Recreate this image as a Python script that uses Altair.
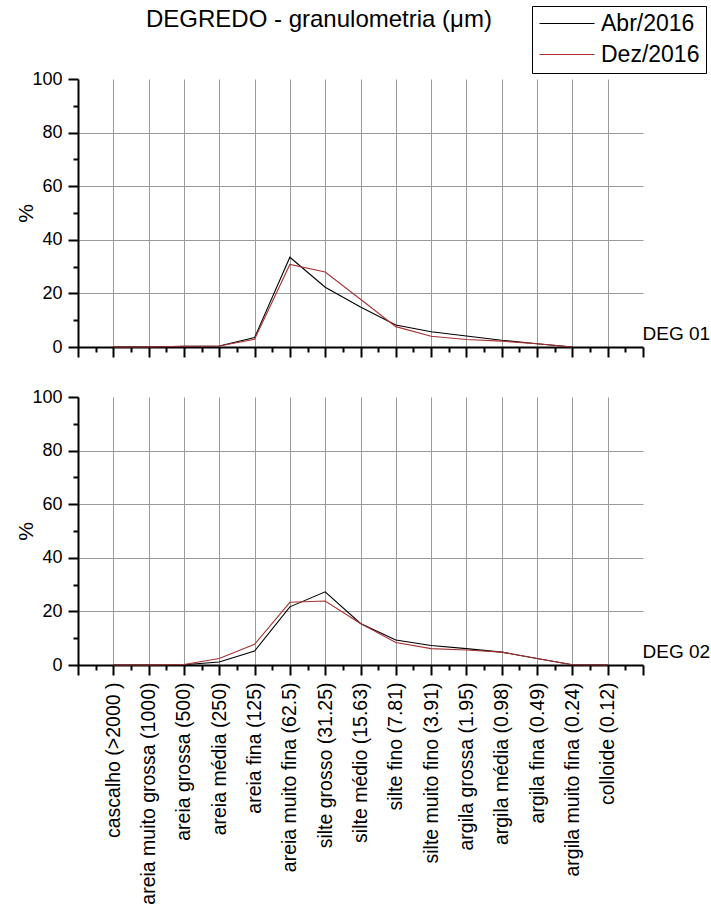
import json
import altair as alt
import pandas as pd

# ---------------- data ----------------
categories = [
    "cascalho (>2000 )", "areia muito grossa (1000)", "areia grossa (500)",
    "areia média (250)", "areia fina (125)", "areia muito fina (62.5)",
    "silte grosso (31.25)", "silte médio (15.63)", "silte fino (7.81)",
    "silte muito fino (3.91)", "argila grossa (1.95)", "argila média (0.98)",
    "argila fina (0.49)", "argila muito fina (0.24)", "colloide (0.12)",
]
cat_pos = list(range(1, 16))
series_names = ["Abr/2016", "Dez/2016"]
series_colors = ["#000000", "#a83232"]

deg01_abr = [0, 0, 0.3, 0.4, 3.5, 33.5, 22.3, 14.9, 8.2, 5.7, 4.1, 2.5, 1.2, 0, None]
deg01_dez = [0, 0, 0.3, 0.4, 2.9, 30.8, 28.0, 17.8, 7.6, 4.0, 2.8, 2.2, 1.2, 0, None]
deg02_abr = [0, 0, 0.1, 1.1, 5.2, 21.7, 27.3, 15.5, 9.3, 7.3, 6.1, 4.8, 2.4, 0.1, 0]
deg02_dez = [0, 0, 0.2, 2.4, 7.7, 23.4, 23.9, 15.5, 8.4, 6.1, 5.6, 4.8, 2.4, 0.1, 0]

panel_labels = ["DEG 01", "DEG 02"]
panel_label_pos = [5, 5]

x_ticks = [i * 0.5 for i in range(33)]
y_ticks = list(range(0, 101, 10))

FONT = "Liberation Sans, Arial, sans-serif"
W, H = 565, 268


def make_df(abr, dez):
    rows = []
    for name, vals in ((series_names[0], abr), (series_names[1], dez)):
        for p, v in zip(cat_pos, vals):
            if v is not None:
                rows.append({"pos": p, "val": v, "serie": name})
    return pd.DataFrame(rows)


cat_js = json.dumps(categories, ensure_ascii=False)
x_label_expr = (
    "(datum.value % 1 === 0 && datum.value >= 1 && datum.value <= 15) ? "
    + cat_js + "[datum.value - 1] : ''"
)


def panel(df, show_labels, label_text, label_pos, legend):
    x_axis = alt.Axis(
        values=x_ticks,
        title=None,
        labels=show_labels,
        labelExpr=x_label_expr,
        labelAngle=270,
        labelFontSize=19.5,
        labelFont=FONT,
        labelColor="black",
        labelOverlap=False,
        labelFlush=False,
        labelBound=False,
        labelLimit=0,
        labelPadding=7,
        tickSize={"condition": {"test": "datum.value % 1 === 0", "value": 10}, "value": 5},
        tickWidth=2,
        tickColor="black",
        domainColor="black",
        domainWidth=2,
        grid=True,
        gridColor="#9a9a9a",
        gridWidth=1,
        gridOpacity={"condition": {"test": "datum.value % 1 === 0 && datum.value > 0 && datum.value < 16", "value": 1}, "value": 0},
    )
    y_axis = alt.Axis(
        values=y_ticks,
        title="%",
        titleFontSize=21,
        titleFont=FONT,
        titleFontWeight="normal",
        titleColor="black",
        titlePadding=-5,
        labelExpr="datum.value % 20 === 0 ? datum.label : ''",
        labelFontSize=18,
        labelFont=FONT,
        labelColor="black",
        labelPadding=6,
        labelOverlap=False,
        tickSize={"condition": {"test": "datum.value % 20 === 0", "value": 10}, "value": 5},
        tickWidth=2,
        tickColor="black",
        domainColor="black",
        domainWidth=2,
        grid=True,
        gridColor="#9a9a9a",
        gridWidth=1,
        gridOpacity={"condition": {"test": "datum.value % 20 === 0 && datum.value > 0 && datum.value < 100", "value": 1}, "value": 0},
    )
    xs = alt.Scale(domain=[0, 16], nice=False, zero=False)
    ys = alt.Scale(domain=[0, 100], nice=False)
    xenc = alt.X("pos:Q", scale=xs, axis=x_axis)

    if legend:
        leg = alt.Legend(
            title=None, orient="none", legendX=454, legendY=-73,
            symbolType="M-1,0H4.5", symbolSize=400, symbolStrokeWidth=1.2,
            labelFontSize=23, labelFont=FONT, labelColor="black",
            strokeColor="black", fillColor="white", padding=6,
            rowPadding=7, labelOffset=40,
        )
    else:
        leg = None

    lines = alt.Chart(df).mark_line(strokeWidth=1.1).encode(
        x=xenc,
        y=alt.Y("val:Q", scale=ys, axis=y_axis),
        color=alt.Color("serie:N", scale=alt.Scale(domain=series_names, range=series_colors), legend=leg),
        detail="serie:N",
    )
    right = alt.Chart(df).mark_line(opacity=0).encode(
        x=xenc,
        y=alt.Y("val:Q", scale=ys, axis=alt.Axis(
            orient="right", values=[label_pos], labelExpr="'" + label_text + "'",
            ticks=False, domain=False, grid=False, title=None,
            labelFontSize=19, labelFont=FONT, labelColor="black", labelPadding=-1,
        )),
        detail="serie:N",
    )
    return alt.layer(lines, right).resolve_axis(y="independent").properties(width=W, height=H)


p1 = panel(make_df(deg01_abr, deg01_dez), False, panel_labels[0], panel_label_pos[0], True)
p1 = p1.properties(title=alt.TitleParams(
    "DEGREDO - granulometria (μm)", anchor="start", frame="group", dx=68,
    fontSize=24, fontWeight="normal", font=FONT, color="black", offset=38,
))
p2 = panel(make_df(deg02_abr, deg02_dez), True, panel_labels[1], panel_label_pos[1], False)

chart = alt.vconcat(p1, p2, spacing=50, bounds="flush").properties(
    padding={"left": 15, "top": 5, "right": 0, "bottom": 0},
    background="white",
).configure_view(stroke=None)

chart.save("out.html", embed_options={"renderer": "svg", "actions": False})
